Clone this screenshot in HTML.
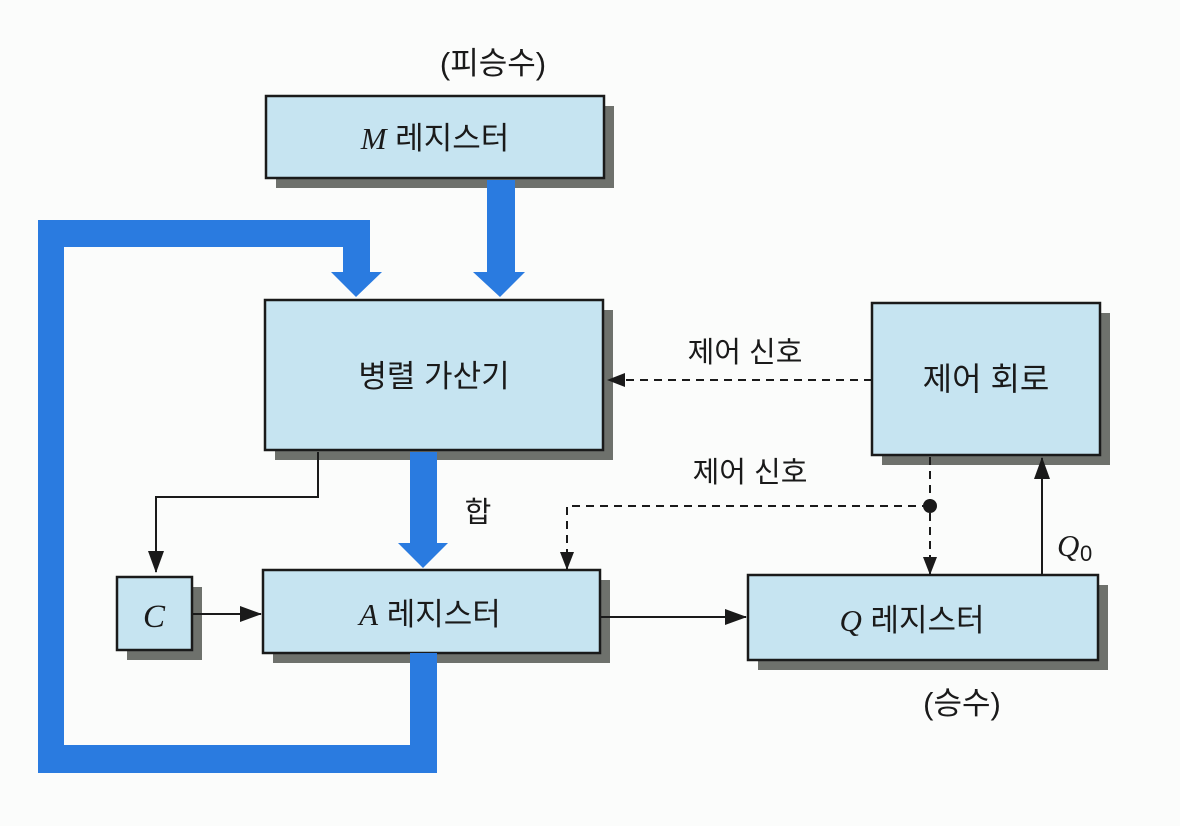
<!DOCTYPE html>
<html><head><meta charset="utf-8"><style>
html,body{margin:0;padding:0;background:#fbfcfb;}
svg{display:block;}
text{font-family:"Liberation Sans","Noto Sans CJK KR",sans-serif;fill:#1a1a1a;}
.it{font-family:"Liberation Serif","Noto Serif CJK SC",serif;font-style:italic;}
</style></head><body>
<svg width="1180" height="826" viewBox="0 0 1180 826" xmlns="http://www.w3.org/2000/svg">
<defs>
<marker id="ah" markerWidth="22" markerHeight="16" refX="21" refY="8" orient="auto" markerUnits="userSpaceOnUse" viewBox="0 0 22 16"><path d="M0,0 L22,8 L0,16 z" fill="#1a1a1a"/></marker>
<marker id="as" markerWidth="18" markerHeight="14" refX="17" refY="7" orient="auto" markerUnits="userSpaceOnUse" viewBox="0 0 18 14"><path d="M0,0 L18,7 L0,14 z" fill="#1a1a1a"/></marker>
</defs>
<g fill="#6e716c">
<rect x="276" y="106" width="338" height="82"/>
<rect x="275" y="310" width="338" height="150"/>
<rect x="882" y="313" width="228" height="152"/>
<rect x="273" y="580" width="337" height="83"/>
<rect x="127" y="587" width="75" height="73"/>
<rect x="758" y="585" width="350" height="85"/>
</g>
<g fill="#c6e4f1" stroke="#1a1a1a" stroke-width="2.5">
<rect x="266" y="96" width="338" height="82"/>
<rect x="265" y="300" width="338" height="150"/>
<rect x="872" y="303" width="228" height="152"/>
<rect x="263" y="570" width="337" height="83"/>
<rect x="117" y="577" width="75" height="73"/>
<rect x="748" y="575" width="350" height="85"/>
</g>
<g fill="#2a7be0">
<path d="M38,220 H370 V272 H382 L356,297 L331,272 H343 V247 H64 V745 H410 V653 H437 V773 H38 Z"/>
<path d="M487,180 H515 V272 H525 L500,297 L473,272 H487 Z"/>
<path d="M410,452 H437 V543 H448 L423,568 L398,543 H410 Z"/>
</g>
<g stroke="#1a1a1a" stroke-width="2" fill="none">
<path d="M318,452 V497 H156 V572" marker-end="url(#ah)"/>
<path d="M193,614 H261" marker-end="url(#ah)"/>
<path d="M600,617 H746" marker-end="url(#ah)"/>
<path d="M1042,575 V458" marker-end="url(#ah)"/>
</g>
<g stroke="#1a1a1a" stroke-width="2" fill="none" stroke-dasharray="8,6">
<path d="M872,380 H608" marker-end="url(#as)"/>
<path d="M930,457 V574" marker-end="url(#as)"/>
<path d="M930,506 H567 V569" marker-end="url(#as)"/>
</g>
<circle cx="930" cy="506" r="7" fill="#1a1a1a"/>
<text x="493" y="74" font-size="31" text-anchor="middle">(피승수)</text>
<text x="435" y="149" font-size="31" text-anchor="middle"><tspan class="it">M</tspan> 레지스터</text>
<text x="434" y="387" font-size="31" text-anchor="middle">병렬 가산기</text>
<text x="986" y="390" font-size="32" text-anchor="middle">제어 회로</text>
<text x="745" y="362" font-size="29" text-anchor="middle">제어 신호</text>
<text x="750" y="482" font-size="29" text-anchor="middle">제어 신호</text>
<text x="478" y="522" font-size="29" text-anchor="middle">합</text>
<text x="154" y="627" font-size="33" text-anchor="middle" class="it">C</text>
<text x="430" y="625" font-size="31" text-anchor="middle"><tspan class="it">A</tspan> 레지스터</text>
<text x="912" y="631" font-size="31" text-anchor="middle"><tspan class="it">Q</tspan> 레지스터</text>
<text x="1057" y="556" font-size="31" class="it">Q</text><text x="1080" y="561" font-size="22" font-family="Liberation Serif">0</text>
<text x="962" y="714" font-size="31" text-anchor="middle">(승수)</text>
</svg>
</body></html>
